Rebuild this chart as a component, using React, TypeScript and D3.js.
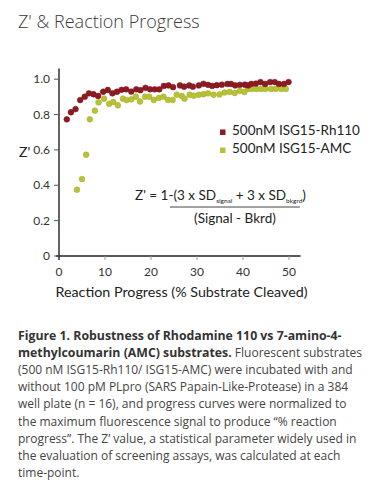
import React from "react";
import * as d3 from "d3";

const rhX = [1.7, 2.6, 3.6, 4.6, 5.6, 6.5, 7.5, 8.5, 9.6, 10.6, 11.6, 12.6, 13.6, 14.6, 15.7, 16.8, 17.7, 18.8, 19.8, 20.8, 21.8, 22.8, 23.8, 24.8, 26.3, 27.2, 28.3, 29.1, 30.4, 31.4, 32.4, 33.3, 34.3, 35.4, 36.6, 37.4, 38.3, 39.3, 40.4, 41.1, 41.8, 42.8, 43.8, 44.8, 45.9, 46.9, 47.8, 48.9, 49.9];
const rhY = [0.773, 0.813, 0.831, 0.882, 0.901, 0.92, 0.915, 0.905, 0.929, 0.939, 0.92, 0.929, 0.94, 0.943, 0.93, 0.943, 0.938, 0.951, 0.943, 0.943, 0.943, 0.962, 0.965, 0.955, 0.965, 0.958, 0.965, 0.958, 0.965, 0.974, 0.968, 0.962, 0.966, 0.969, 0.973, 0.973, 0.965, 0.968, 0.969, 0.965, 0.973, 0.975, 0.984, 0.973, 0.984, 0.984, 0.973, 0.973, 0.984];

const amcX = [3.9, 5.0, 5.9, 6.7, 7.8, 8.6, 9.8, 10.9, 11.8, 12.8, 13.9, 14.7, 15.7, 16.7, 17.6, 18.7, 19.6, 20.6, 21.7, 22.7, 23.7, 24.7, 25.6, 26.7, 27.3, 28.4, 29.3, 30.4, 31.4, 32.4, 33.6, 34.9, 36.0, 37.1, 38.2, 39.3, 40.3, 41.1, 41.9, 42.9, 43.9, 44.9, 46.1, 47.1, 48.3, 49.3];
const amcY = [0.375, 0.435, 0.573, 0.773, 0.822, 0.869, 0.89, 0.861, 0.871, 0.852, 0.89, 0.882, 0.886, 0.901, 0.874, 0.901, 0.901, 0.883, 0.894, 0.901, 0.883, 0.883, 0.912, 0.905, 0.89, 0.912, 0.907, 0.912, 0.915, 0.92, 0.912, 0.914, 0.925, 0.928, 0.922, 0.934, 0.928, 0.945, 0.945, 0.945, 0.945, 0.945, 0.945, 0.945, 0.945, 0.945];

const xTicks = [0, 10, 20, 30, 40, 50];
const yTicks = [0, 0.2, 0.4, 0.6, 0.8, 1.0];
const seriesNames = ["500nM ISG15-Rh110", "500nM ISG15-AMC"];
const seriesColors = ["#8c1b22", "#b9c236"];

const caption: { bold?: string; text?: string }[] = [
  { bold: "Figure 1. Robustness of Rhodamine 110 vs 7-amino-4-" },
  { bold: "methylcoumarin (AMC) substrates.", text: " Fluorescent substrates" },
  { text: "(500 nM ISG15-Rh110/ ISG15-AMC) were incubated with and" },
  { text: "without 100 pM PLpro (SARS Papain-Like-Protease) in a 384" },
  { text: "well plate (n = 16), and progress curves were normalized to" },
  { text: "the maximum fluorescence signal to produce \u201c% reaction" },
  { text: "progress\u201d. The Z\u2019 value, a statistical parameter widely used in" },
  { text: "the evaluation of screening assays, was calculated at each" },
  { text: "time-point." },
];

export default function App() {
  const x = d3.scaleLinear().domain([0, 50]).range([59, 289]);
  const y = d3.scaleLinear().domain([0, 1]).range([256, 79.2]);
  const chartFont = "Lato, 'Open Sans', sans-serif";
  const textFont = "'Open Sans', sans-serif";

  const rh = rhX.map((v, i) => [v, rhY[i]]);
  const amc = amcX.map((v, i) => [v, amcY[i]]);

  return (
    <svg
      width={376}
      height={496}
      style={{ position: "absolute", left: 0, top: 0, background: "#fff" }}
    >
      <text x={18} y={28} fontFamily={textFont} fontSize={18} fontWeight={300} fill="#3a3a3a">
        Z' &amp; Reaction Progress
      </text>

      {/* axes */}
      <line x1={x(0)} x2={x(0)} y1={y(1.06)} y2={y(0) + 4} stroke="#222" strokeWidth={1.4} />
      <line x1={x(0) - 3} x2={x(52.5)} y1={y(0)} y2={y(0)} stroke="#222" strokeWidth={1.4} />
      {yTicks.map((t) => (
        <g key={"y" + t}>
          <line x1={x(0) - 5} x2={x(0)} y1={y(t)} y2={y(t)} stroke="#555" strokeWidth={1} />
          <text x={50} y={y(t) + 4.2} textAnchor="end" fontFamily={chartFont} fontSize={12} fill="#333">
            {t === 0 ? "0" : t.toFixed(1)}
          </text>
        </g>
      ))}
      {xTicks.map((t) => (
        <g key={"x" + t}>
          {t > 0 && <line x1={x(t)} x2={x(t)} y1={y(0)} y2={y(0) + 4} stroke="#999" strokeWidth={1} />}
          <text x={x(t)} y={276} textAnchor="middle" fontFamily={chartFont} fontSize={12} fill="#333">
            {t}
          </text>
        </g>
      ))}
      <text x={19} y={157} fontFamily={chartFont} fontSize={14} fill="#222">Z'</text>
      <text x={181.5} y={297} textAnchor="middle" fontFamily={chartFont} fontSize={14.3} fill="#222">
        Reaction Progress (% Substrate Cleaved)
      </text>

      {/* points */}
      {amc.map((d, i) => (
        <circle key={"a" + i} cx={x(d[0])} cy={y(d[1])} r={2.9} fill={seriesColors[1]} stroke="#a4ad2a" strokeWidth={0.5} />
      ))}
      {rh.map((d, i) => (
        <circle key={"r" + i} cx={x(d[0])} cy={y(d[1])} r={2.9} fill={seriesColors[0]} stroke="#7a1519" strokeWidth={0.5} />
      ))}

      {/* legend */}
      {seriesNames.map((n, i) => (
        <g key={n}>
          <rect x={220} y={129.5 + i * 18} width={5.5} height={5.5} fill={seriesColors[i]} />
          <text x={232} y={134.5 + i * 18} fontFamily={chartFont} fontSize={13.5} fill="#222">
            {n}
          </text>
        </g>
      ))}

      {/* formula */}
      <text x={135} y={200} fontFamily={chartFont} fontSize={13.5} fill="#222">
        Z' = 1-(3 x SD
        <tspan fontSize={6.5} dy={3}>signal</tspan>
        <tspan dy={-3}> + 3 x SD</tspan>
        <tspan fontSize={6.5} dy={3}>bkgrd</tspan>
        <tspan dy={-3}>)</tspan>
      </text>
      <line x1={170} x2={300} y1={207} y2={207} stroke="#444" strokeWidth={1} />
      <text x={235} y={223} textAnchor="middle" fontFamily={chartFont} fontSize={13.5} fill="#222">
        (Signal - Bkrd)
      </text>

      {/* caption */}
      {caption.map((l, i) => (
        <text key={i} x={18} y={340 + i * 17.1} fontFamily={textFont} fill="#444">
          {l.bold && <tspan fontWeight={700} fontSize={12.3} fill="#333">{l.bold}</tspan>}
          {l.text && <tspan fontSize={12}>{l.text}</tspan>}
        </text>
      ))}
    </svg>
  );
}
